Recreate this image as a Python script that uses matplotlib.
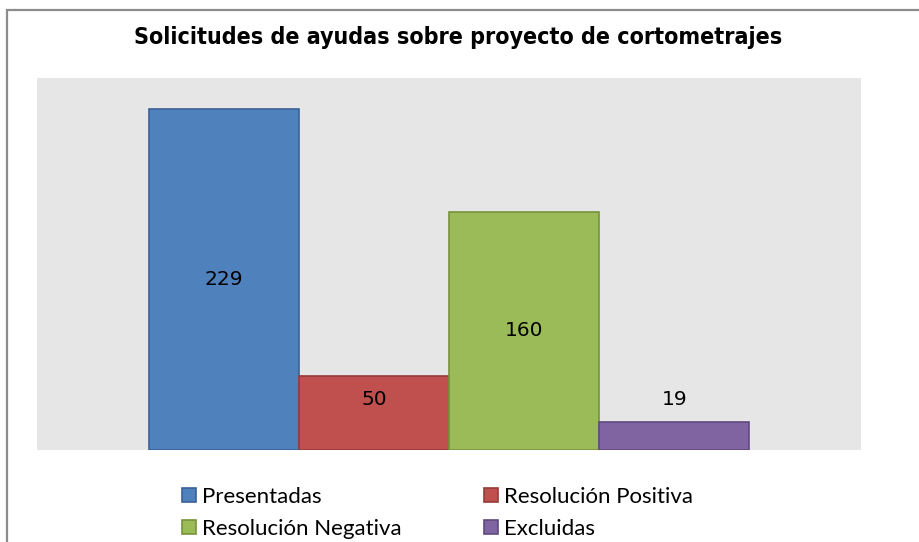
import matplotlib
matplotlib.use("Agg")
import matplotlib.pyplot as plt
from matplotlib.patches import Rectangle, Patch
from matplotlib import font_manager

# ---- data ----
title = "Solicitudes de ayudas sobre proyecto de cortometrajes"
series = ["Presentadas", "Resolución Positiva", "Resolución Negativa", "Excluidas"]
values = [229, 50, 160, 19]
colors = ["#4F81BD", "#C0504D", "#9BBB59", "#8064A2"]
edges = ["#3A6296", "#973C3A", "#76923C", "#5F4A7D"]

W, H = 919, 542
fig = plt.figure(figsize=(W / 100, H / 100), dpi=100)

# outer chart border (cropped at right and bottom)
fig.patches.append(Rectangle((7 / W, -0.05), 1.1, 1 - 10 / H + 0.05,
                             transform=fig.transFigure, fill=False,
                             edgecolor="#8C8C8C", linewidth=1.6))

ax = fig.add_axes([37 / W, 1 - 450 / H, (861 - 37) / W, (450 - 78) / H])
ax.set_facecolor("#E6E6E6")
for s in ax.spines.values():
    s.set_visible(False)
ax.set_xticks([])
ax.set_yticks([])

x = list(range(len(values)))
bars = ax.bar(x, values, width=1.0, color=colors, edgecolor=edges, linewidth=1.2)
ax.set_xlim(-1.245, 4.245)
ax.set_ylim(0, 250)

for xi, v in zip(x, values):
    ax.text(xi, max(v / 2, 34), str(v), ha="center", va="center",
            fontsize=14.5, color="black", family="DejaVu Sans")

# title: prefer condensed bold (Tahoma-like) if available
fp = font_manager.FontProperties(family="DejaVu Sans", weight="bold", stretch="condensed")
path = font_manager.findfont(fp)
if "Condensed" in path:
    tprops = dict(fontproperties=font_manager.FontProperties(fname=path))
else:
    tprops = dict(family="DejaVu Sans", fontweight="bold")
t = fig.text(458 / W, 1 - 38 / H, title, ha="center", va="center", **tprops)
t.set_fontsize(16)
fig.canvas.draw()
wpx = t.get_window_extent().width
t.set_fontsize(16 * 650 / wpx)

handles = [Patch(facecolor=c, edgecolor=e, linewidth=1.2) for c, e in zip(colors, edges)]
leg_kw = dict(frameon=False, prop={"family": "Lato", "size": 16},
              handlelength=0.62, handleheight=0.62, handletextpad=0.3,
              labelspacing=0.55, borderpad=0, borderaxespad=0, loc="center left")
l1 = fig.legend([handles[0], handles[2]], [series[0], series[2]],
                bbox_to_anchor=(182 / W, 1 - 513 / H), **leg_kw)
l2 = fig.legend([handles[1], handles[3]], [series[1], series[3]],
                bbox_to_anchor=(484 / W, 1 - 513 / H), **leg_kw)

fig.savefig("out.png", dpi=100)
